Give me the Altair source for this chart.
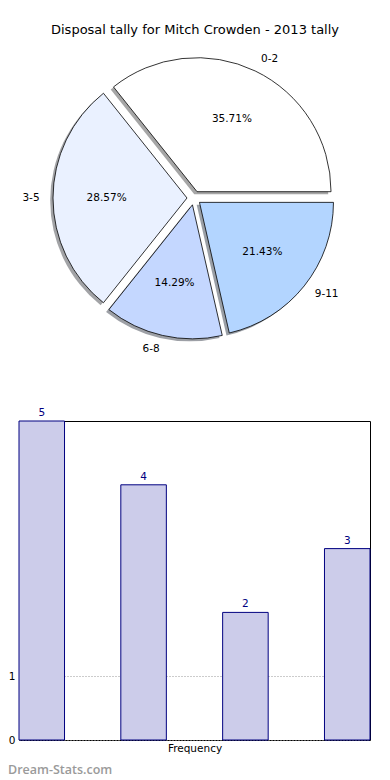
import math
import altair as alt
import pandas as pd

# ---- data ----
cats = ["0-2", "3-5", "6-8", "9-11"]
freq = [5, 4, 2, 3]
pie_order = [3, 2, 1, 0]          # clockwise drawing order from 3 o'clock
title_text = ["Disposal tally for Mitch Crowden - 2013 tally"]
watermark_text = ["Dream-Stats.com"]

# ---- style ----
slice_colors = ["#ffffff", "#eaf1ff", "#c4d7ff", "#b3d5ff"]
shadow_colors = ["#4d4d4d", "#46484d", "#3b414d", "#36404d"]
FONT = "DejaVu Sans"
CX, CY = 175, -223      # pie centre relative to bar plot origin
R = 134
EXP = 7
SHX, SHY = -2.8, 2.5
NAVY = "#000080"

df = pd.DataFrame({"cat": cats, "freq": freq, "o": pie_order})
TS = alt.Scale(domain=[0, 1], range=[math.pi / 2, math.pi / 2 + 2 * math.pi])

pie = (
    alt.Chart(df)
    .transform_joinaggregate(total="sum(freq)")
    .transform_window(cum="sum(freq)", sort=[alt.SortField("o")], frame=[None, 0])
    .transform_calculate(
        t1="datum.cum / datum.total",
        t0="(datum.cum - datum.freq) / datum.total",
        tm="(datum.cum - datum.freq / 2) / datum.total",
        pct="format(100 * datum.freq / datum.total, '.2f') + '%'",
    )
    .transform_calculate(ang="PI / 2 + datum.tm * 2 * PI")
    .transform_calculate(
        px=f"{CX} + {EXP} * sin(datum.ang)",
        py=f"{CY} - {EXP} * cos(datum.ang)",
        side="sin(datum.ang) >= 0 ? 'right' : 'left'",
    )
    .transform_calculate(sx=f"datum.px + ({SHX})", sy=f"datum.py + ({SHY})")
)

xpos = alt.X("px:Q", scale=None, axis=None)
ypos = alt.Y("py:Q", scale=None, axis=None)

shadow = pie.mark_arc(radius=R, opacity=0.5).encode(
    theta=alt.Theta("t0:Q", scale=TS),
    theta2="t1:Q",
    x=alt.X("sx:Q", scale=None, axis=None),
    y=alt.Y("sy:Q", scale=None, axis=None),
    fill=alt.Fill("cat:N", scale=alt.Scale(domain=cats, range=shadow_colors), legend=None),
)

wedges = pie.mark_arc(radius=R, stroke="black", strokeWidth=0.8).encode(
    theta=alt.Theta("t0:Q", scale=TS),
    theta2="t1:Q",
    x=xpos,
    y=ypos,
    color=alt.Color("cat:N", scale=alt.Scale(domain=cats, range=slice_colors), legend=None),
)

pct = pie.mark_text(radius=0.6 * R, font=FONT, fontSize=10.5, color="black").encode(
    theta=alt.Theta("tm:Q", scale=TS), x=xpos, y=ypos, text="pct:N"
)

lab_r = pie.transform_filter("datum.side == 'right'").mark_text(
    radius=1.1 * R, font=FONT, fontSize=10.5, color="black", align="left"
).encode(theta=alt.Theta("tm:Q", scale=TS), x=xpos, y=ypos, text="cat:N")

lab_l = pie.transform_filter("datum.side == 'left'").mark_text(
    radius=1.1 * R, font=FONT, fontSize=10.5, color="black", align="right"
).encode(theta=alt.Theta("tm:Q", scale=TS), x=xpos, y=ypos, text="cat:N")

title = alt.Chart(pd.DataFrame({"t": title_text})).mark_text(
    font=FONT, fontSize=13, color="black"
).encode(x=alt.value(176), y=alt.value(-391), text="t:N")

XS = dict(type="band", paddingInner=0.553, paddingOuter=0)

xb = alt.X(
    "cat:N",
    sort=cats,
    scale=alt.Scale(**XS),
    axis=alt.Axis(
        labels=False, ticks=False, domain=False, title="Frequency",
        titleFont=FONT, titleFontSize=10.5, titleFontWeight="normal",
        titleColor="black", titlePadding=3,
    ),
)
yb = alt.Y(
    "freq:Q",
    scale=alt.Scale(domain=[0, 5], nice=False),
    axis=alt.Axis(
        values=[0, 1], title=None, domain=False, tickSize=0, labelPadding=4,
        labelFont=FONT, labelFontSize=10.5, labelColor="black",
        grid=True, gridDash=[1, 2], gridColor="#999999", gridWidth=1,
    ),
)

bars = alt.Chart(df).mark_bar(fill="#ccccea", stroke=NAVY, strokeWidth=1).encode(x=xb, y=yb)

bar_labels = alt.Chart(df).mark_text(
    baseline="bottom", dy=-3, font=FONT, fontSize=10.5, color=NAVY
).encode(
    x=alt.X("cat:N", sort=cats, scale=alt.Scale(**XS), axis=None, bandPosition=0.5),
    y=alt.Y("freq:Q", scale=alt.Scale(domain=[0, 5], nice=False), axis=None),
    text="freq:Q",
)

wm = alt.Chart(pd.DataFrame({"t": watermark_text})).mark_text(
    font="Open Sans", fontSize=12.5, fontWeight=600, color="#9a9a9a", align="left"
).encode(x=alt.value(-11), y=alt.value(349), text="t:N")

chart = (
    alt.layer(shadow, wedges, pct, lab_r, lab_l, title, bars, bar_labels, wm)
    .resolve_scale(x="independent", y="independent", color="independent", fill="independent")
    .properties(
        width=351,
        height=319,
        padding={"left": 11, "top": 413, "right": 12, "bottom": 40},
        autosize=alt.AutoSizeParams(type="none"),
    )
    .configure_view(stroke="black", strokeWidth=1)
)

chart.save("out.html", embed_options={"renderer": "svg", "actions": False})
